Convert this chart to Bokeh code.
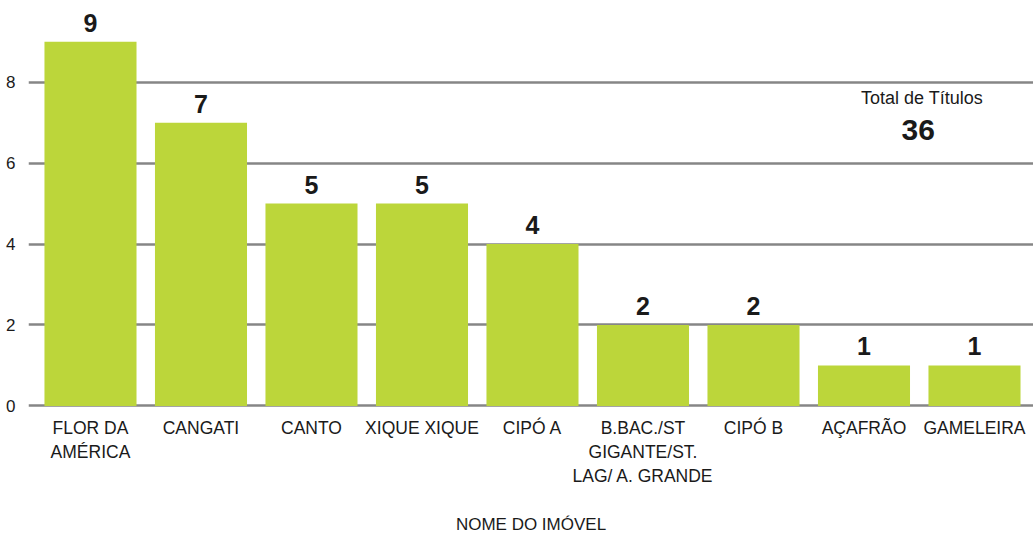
from bokeh.plotting import figure
from bokeh.models import Range1d, FixedTicker, ColumnDataSource, Label
from bokeh.embed import file_html
from bokeh.resources import INLINE
from bokeh.core.properties import value

categories = ["FLOR DA\nAMÉRICA", "CANGATI", "CANTO", "XIQUE XIQUE", "CIPÓ A",
              "B.BAC./ST\nGIGANTE/ST.\nLAG/ A. GRANDE", "CIPÓ B", "AÇAFRÃO", "GAMELEIRA"]
counts = [9, 7, 5, 5, 4, 2, 2, 1, 1]
y_ticks = [0, 2, 4, 6, 8]
total_label = "Total de Títulos"
total_value = str(sum(counts))
x_title = "NOME DO IMÓVEL"

FONT = "Liberation Sans"
GREEN = "#bcd63a"
GRID = "#868686"
TEXT = "#1a1a1a"

idx = list(range(len(categories)))
src = ColumnDataSource(dict(x=idx, top=counts, lbl=[str(c) for c in counts]))

p = figure(width=1033, height=536, output_backend="svg", toolbar_location=None,
           x_range=Range1d(-0.561, 8.534), y_range=Range1d(-0.04, 10.02),
           min_border_left=28, min_border_right=0, min_border_top=0, min_border_bottom=129)
p.outline_line_color = None
p.background_fill_color = "white"
p.border_fill_color = "white"

p.vbar(x="x", top="top", bottom=0, width=0.833, source=src, color=GREEN, line_color=None)
p.text(x="x", y="top", text="lbl", source=src, text_align="center", text_baseline="bottom",
       y_offset=-10, text_font=value(FONT), text_font_style="bold", text_font_size="25px",
       text_color=TEXT)

p.xgrid.visible = False
p.ygrid.ticker = FixedTicker(ticks=y_ticks)
p.ygrid.grid_line_color = GRID
p.ygrid.grid_line_width = 2.5
p.ygrid.level = "underlay"

p.yaxis.ticker = FixedTicker(ticks=y_ticks)
p.yaxis.axis_line_color = None
p.yaxis.major_tick_line_color = None
p.yaxis.minor_tick_line_color = None
p.yaxis.major_label_standoff = 7
p.yaxis.major_label_text_font = FONT
p.yaxis.major_label_text_font_size = "17px"
p.yaxis.major_label_text_color = TEXT

p.xaxis.ticker = FixedTicker(ticks=idx)
p.xaxis.major_label_overrides = {i: c for i, c in zip(idx, categories)}
p.xaxis.axis_line_color = None
p.xaxis.major_tick_line_color = None
p.xaxis.minor_tick_line_color = None
p.xaxis.major_label_standoff = 4
p.xaxis.major_label_text_font = FONT
p.xaxis.major_label_text_font_size = "17.5px"
p.xaxis.major_label_text_color = TEXT
p.xaxis.major_label_text_line_height = 1.2
p.xaxis.axis_label = x_title
p.xaxis.axis_label_standoff = 26
p.xaxis.axis_label_text_font = FONT
p.xaxis.axis_label_text_font_size = "17px"
p.xaxis.axis_label_text_font_style = "normal"
p.xaxis.axis_label_text_color = TEXT

p.add_layout(Label(x=7.525, y=7.6, text=total_label, text_align="center", text_baseline="middle",
                   text_font=FONT, text_font_size="18px", text_color=TEXT))
p.add_layout(Label(x=7.49, y=6.83, text=total_value, text_align="center", text_baseline="middle",
                   text_font=FONT, text_font_size="30px", text_font_style="bold", text_color=TEXT))

open("out.html", "w").write(file_html(p, INLINE))
